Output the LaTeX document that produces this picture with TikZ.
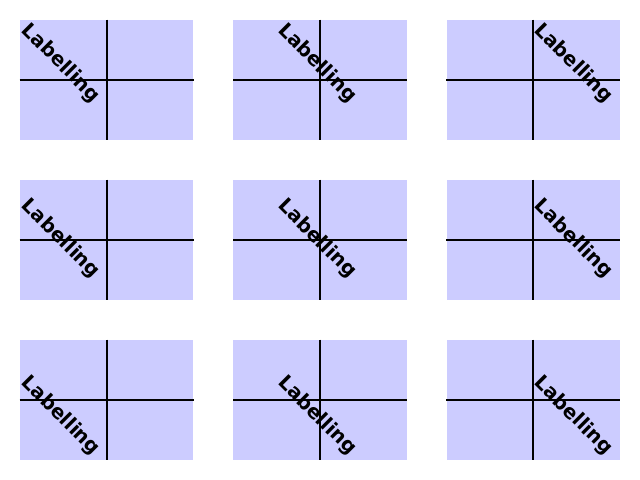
\documentclass[tikz,border=0pt]{standalone}
\usepackage{fontspec}
\setmainfont{DejaVu Sans}
\definecolor{panelblue}{RGB}{204,204,255}
\tikzset{
  panel/.style={fill=panelblue, draw=none, inner sep=0pt,
    minimum width=124.8pt, minimum height=86.4pt},
  axisline/.style={line width=1.5pt, black},
  lbl/.style={rotate=-45, inner sep=0pt, font=\bfseries\fontsize{14.2}{17}\selectfont}
}
\begin{document}
\begin{tikzpicture}[x=0.72pt, y=-0.72pt]
  \useasboundingbox (0,0) rectangle (640,480);
  % rows: vertical offset of label, columns: horizontal offset
  \foreach \r/\dy in {0/-16.5, 1/-1, 2/16} {
    \foreach \c/\dx in {0/-46, 1/-3, 2/40} {
      \node[panel] (p\r\c) at (106.67+213.33*\c, 80+160*\r) {};
      \draw[axisline] (p\r\c.north) -- (p\r\c.south);
      \draw[axisline] (p\r\c.west) -- (p\r\c.east);
      \node[lbl] (t\r\c) at ([shift={(\dx,\dy)}]p\r\c.center) {Labelling};
    }
  }
\end{tikzpicture}
\end{document}
